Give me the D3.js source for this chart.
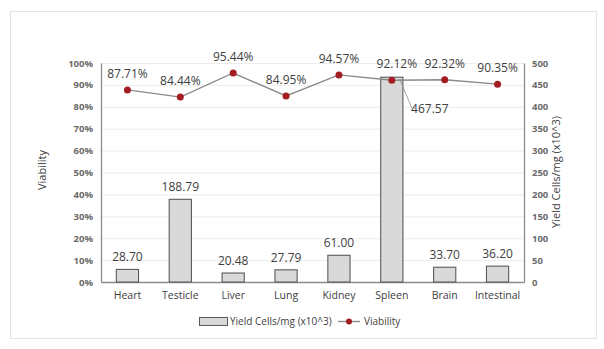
<!DOCTYPE html>
<html><head><meta charset="utf-8">
<script src="https://cdn.jsdelivr.net/npm/d3@7"></script>
<style>body{margin:0;background:#fff;}svg{display:block;}</style>
</head><body>
<svg id="c" width="604" height="349"></svg>
<script>
const categories = ["Heart","Testicle","Liver","Lung","Kidney","Spleen","Brain","Intestinal"];
const yieldValues = [28.70,188.79,20.48,27.79,61.00,467.57,33.70,36.20];
const viability = [87.71,84.44,95.44,84.95,94.57,92.12,92.32,90.35];
const leftTicks = [0,10,20,30,40,50,60,70,80,90,100];
const rightTicks = [0,50,100,150,200,250,300,350,400,450,500];

const svg = d3.select("#c");
const font = "'Liberation Sans Narrow','Open Sans',sans-serif";
const m = {l:101, r:524, t:63, b:282};

svg.append("rect").attr("x",10.5).attr("y",11.5).attr("width",586).attr("height",327)
  .attr("fill","#fff").attr("stroke","#e3e3e3");

const x = d3.scaleBand().domain(categories).range([m.l,m.r]).paddingInner(0.58).paddingOuter(0.29);
const yL = d3.scaleLinear().domain([0,100]).range([m.b,m.t]);
const yR = d3.scaleLinear().domain([0,500]).range([m.b,m.t]);
const cx = d => x(d)+x.bandwidth()/2;

// gridlines
svg.append("g").selectAll("line").data(leftTicks.slice(1)).join("line")
  .attr("x1",m.l).attr("x2",m.r).attr("y1",d=>yL(d)+0.5).attr("y2",d=>yL(d)+0.5)
  .attr("stroke","#ececec");

// left axis
const gl = svg.append("g").attr("transform",`translate(${m.l},0)`)
  .call(d3.axisLeft(yL).tickValues(leftTicks).tickFormat(d=>d+"%").tickSize(0).tickPadding(8));
gl.select(".domain").attr("stroke","#8c8c8c").attr("stroke-width",1.3);
gl.selectAll("text").attr("font-family",font).attr("font-size",9.5).attr("font-weight","bold").attr("fill","#6a6a6a");

const gr = svg.append("g").attr("transform",`translate(${m.r},0)`)
  .call(d3.axisRight(yR).tickValues(rightTicks).tickSize(0).tickPadding(8));
gr.select(".domain").attr("stroke","#8c8c8c").attr("stroke-width",1.3);
gr.selectAll("text").attr("font-family",font).attr("font-size",9.5).attr("font-weight","bold").attr("fill","#6a6a6a");

// bottom axis
const gb = svg.append("g").attr("transform",`translate(0,${m.b})`)
  .call(d3.axisBottom(x).tickSize(0).tickPadding(10));
gb.select(".domain").attr("stroke","#8c8c8c").attr("stroke-width",1.3);
gb.selectAll("text").attr("font-family",font).attr("font-size",10.5).attr("fill","#404040");

// bars
svg.append("g").selectAll("rect").data(categories).join("rect")
  .attr("x",d=>x(d)).attr("width",x.bandwidth())
  .attr("y",(d,i)=>yR(yieldValues[i])).attr("height",(d,i)=>m.b-yR(yieldValues[i]))
  .attr("fill","#d9d9d9").attr("stroke","#5a5a5a").attr("stroke-width",1.1);

// bar labels
svg.append("g").selectAll("text").data(categories).join("text")
  .attr("x",(d,i)=> i===5 ? cx(d)+38 : cx(d))
  .attr("y",(d,i)=> i===5 ? yR(yieldValues[i])+36 : yR(yieldValues[i])-8)
  .attr("text-anchor","middle").attr("font-family",font).attr("font-size",12).attr("fill","#404040")
  .text((d,i)=>yieldValues[i].toFixed(2));
// leader line for spleen
svg.append("polyline")
  .attr("points",`${cx("Spleen")+8},${yR(yieldValues[5])+2} ${cx("Spleen")+20},${yR(yieldValues[5])+31} ${cx("Spleen")+24},${yR(yieldValues[5])+31}`)
  .attr("fill","none").attr("stroke","#9a9a9a").attr("stroke-width",0.9);

// line
const line = d3.line().x((d,i)=>cx(categories[i])).y(d=>yL(d));
svg.append("path").datum(viability).attr("d",line).attr("fill","none").attr("stroke","#8a8a8a").attr("stroke-width",1.4);
svg.append("g").selectAll("circle").data(viability).join("circle")
  .attr("cx",(d,i)=>cx(categories[i])).attr("cy",d=>yL(d)).attr("r",3.5).attr("fill","#a31d23");
svg.append("g").selectAll("text").data(viability).join("text")
  .attr("x",(d,i)=>cx(categories[i])+ (i===5?5:0)).attr("y",d=>yL(d)-12)
  .attr("text-anchor","middle").attr("font-family",font).attr("font-size",12).attr("fill","#404040")
  .text(d=>d.toFixed(2)+"%");

// axis titles
svg.append("text").attr("transform","translate(46,170) rotate(-90)").attr("text-anchor","middle")
  .attr("font-family",font).attr("font-size",11).attr("fill","#404040").text("Viability");
svg.append("text").attr("transform","translate(560,172) rotate(-90)").attr("text-anchor","middle")
  .attr("font-family",font).attr("font-size",11).attr("fill","#404040").text("Yield Cells/mg (x10^3)");

// legend
const lg = svg.append("g");
lg.append("rect").attr("x",199.5).attr("y",317.5).attr("width",28).attr("height",8).attr("fill","#d9d9d9").attr("stroke","#5a5a5a");
lg.append("text").attr("x",230).attr("y",325).attr("font-family",font).attr("font-size",10).attr("fill","#404040").text("Yield Cells/mg (x10^3)");
lg.append("line").attr("x1",338).attr("x2",360).attr("y1",321.5).attr("y2",321.5).attr("stroke","#8a8a8a").attr("stroke-width",1.4);
lg.append("circle").attr("cx",349).attr("cy",321.5).attr("r",3).attr("fill","#a31d23");
lg.append("text").attr("x",364).attr("y",325).attr("font-family",font).attr("font-size",10).attr("fill","#404040").text("Viability");
</script>
</body></html>
